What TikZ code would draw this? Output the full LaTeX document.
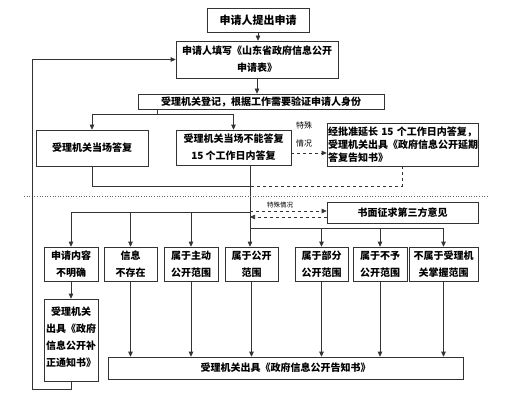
\documentclass[tikz,border=0pt]{standalone}
\usepackage{fontspec}
\setmainfont{Noto Sans CJK SC}
\usetikzlibrary{arrows.meta}

\begin{document}
\begin{tikzpicture}[x=1pt, y=-1pt, line width=.6pt,
  box/.style={draw=black!80, inner sep=1pt, align=center,
    font=\bfseries\fontsize{10}{17}\selectfont},
  link/.style={draw=black!80, -{Triangle[length=5pt, width=4.5pt]}},
  wire/.style={draw=black!80},
  hint/.style={font=\fontsize{8}{18}\selectfont}]
  \useasboundingbox (0,0) rectangle (508,401);
  % upper part
  \node[box, minimum width=102, minimum height=24, font=\bfseries\fontsize{11}{17}\selectfont] (apply) at (258,20) {申请人提出申请};
  \node[box, minimum width=162, minimum height=37] (form) at (257,59.5) {申请人填写《山东省政府信息公开\\申请表》};
  \node[box, minimum width=246, minimum height=15, inner sep=0pt] (reg) at (261,101.5) {受理机关登记，根据工作需要验证申请人身份};
  \node[box, minimum width=112, minimum height=36] (now) at (92,148) {受理机关当场答复};
  \node[box, minimum width=115, minimum height=35] (later) at (233.5,147.5) {受理机关当场不能答复\\15 个工作日内答复};
  \node[box, minimum width=151, minimum height=43, text width=149pt, align=left,
    font=\bfseries\fontsize{10}{13}\selectfont] (ext) at (402.5,144.5)
    {经批准延长 15 个工作日内答复，\\受理机关出具《政府信息公开延期\\答复告知书》};
  \node[box, minimum width=151, minimum height=21] (third) at (402.5,212.5) {书面征求第三方意见};
  % lower part
  \foreach \n/\x/\w/\t in {b1/71/54/{申请内容\\不明确}, b2/130.5/53/{信息\\不存在},
      b3/191/54/{属于主动\\公开范围}, b4/251.5/53/{属于公开\\范围},
      b5/321.5/53/{属于部分\\公开范围}, b6/380/54/{属于不予\\公开范围},
      b7/443.5/69/{不属于受理机\\关掌握范围}}
    \node[box, minimum width=\w, minimum height=34] (\n) at (\x,264) {\t};
  \node[box, minimum width=54, minimum height=82] (notice) at (71,340) {受理机关\\出具《政府\\信息公开补\\正通知书》\\[-10pt]};
  \node[box, minimum width=355, minimum height=22] (final) at (285.5,368) {受理机关出具《政府信息公开告知书》};

  \coordinate (split) at (157,114);
  \coordinate (join) at (250,186);
  \coordinate (fork) at (250,212);
  \coordinate (fork2) at (250,228);

  \draw[link] (apply.south) -- (apply.south |- form.north);
  \draw[link] (form.south) -- (form.south |- reg.north);
  \draw[wire] (split |- reg.south) -- (split);
  \draw[wire] (now.north |- split) -- (later.north |- split);
  \draw[link] (now.north |- split) -- (now.north);
  \draw[link] (later.north |- split) -- (later.north);
  \draw[link, dashed] (later.east |- 0,153) -- (ext.west |- 0,153);
  \node[hint] (special) at (304,125) {特殊};
  \node[hint] (case) at (304,143) {情况};
  \draw[wire] (now.south) |- (join);
  \draw[wire, dashed] (ext.south) |- (join);
  \draw[link] (later.south -| join) -- (join |- b4.north);
  \draw[black!60, dotted] (24,196) -- (489,196);

  \draw[wire] (fork -| b1) -- (fork);
  \foreach \b in {b1, b2, b3}
    \draw[link] (fork -| \b.north) -- (\b.north);
  \draw[wire] (fork2) -- (fork2 -| b7);
  \foreach \b in {b5, b6, b7}
    \draw[link] (fork2 -| \b.north) -- (\b.north);
  \draw[link, dashed] (join |- 0,211) -- (third.west |- 0,211);
  \draw[link, dashed] (third.west |- 0,217) -- (join |- 0,217);
  \node[hint, font=\fontsize{6.5}{8}\selectfont] (askcase) at (280,205) {特殊情况};

  \draw[link] (b1.south) -- (notice.north);
  \foreach \b in {b2, b3, b4, b5, b6, b7}
    \draw[link] (\b.south) -- (\b.south |- final.north);
  \draw[link] (notice.south) -- ++(0,8) -| (32,59.5) -- (form.west);
\end{tikzpicture}
\end{document}
